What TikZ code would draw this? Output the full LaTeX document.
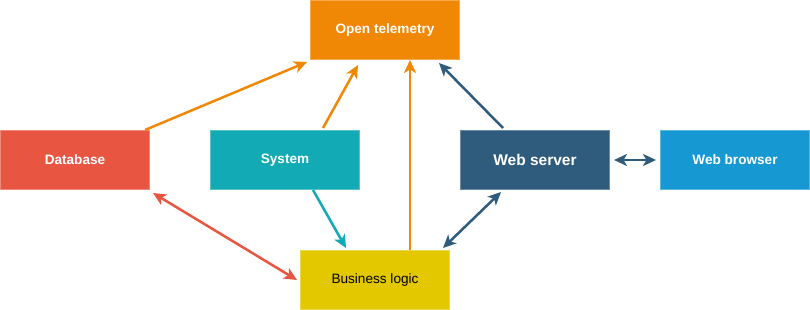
\documentclass[tikz,border=0pt]{standalone}
\usepackage{fontspec}
\setmainfont{Liberation Sans}
\usetikzlibrary{arrows.meta}
\definecolor{otel}{HTML}{F08705}
\definecolor{dbred}{HTML}{E85642}
\definecolor{systeal}{HTML}{12AAB5}
\definecolor{wsblue}{HTML}{2F5B7C}
\definecolor{wbblue}{HTML}{1699D3}
\definecolor{bizyel}{HTML}{E3C800}
\tikzstyle{block}=[rectangle,minimum width=149pt,minimum height=59pt,inner sep=0pt,line width=1pt,text=white,font=\bfseries\fontsize{13.6}{16}\selectfont]
\tikzstyle{link}=[line width=2.5pt,-{Stealth[length=13pt,width=12pt,inset=3.5pt]}]
\tikzstyle{dlink}=[line width=2.5pt,{Stealth[length=13pt,width=12pt,inset=3.5pt]}-{Stealth[length=13pt,width=12pt,inset=3.5pt]}]

\begin{document}
\begin{tikzpicture}[x=1pt,y=-1pt]
    \useasboundingbox (0,0) rectangle (810,310);
    \node[block,fill=otel,draw=otel!70!white] (ot) at (385,30) {Open telemetry};
    \node[block,fill=dbred,draw=dbred!70!white] (db) at (75,160) {Database};
    \node[block,fill=systeal,draw=systeal!70!white] (sys) at (285,160) {System};
    \node[block,fill=wsblue,draw=wsblue!70!white,font=\bfseries\fontsize{15.5}{18}\selectfont] (ws) at (535,160) {Web server};
    \node[block,fill=wbblue,draw=wbblue!70!white] (wb) at (735,160) {Web browser};
    \node[block,fill=bizyel,draw=bizyel!70!white,text=black,font=\fontsize{13.6}{16}\selectfont] (biz) at (375,280) {Business logic};

    % into telemetry
    \draw[link,otel] ([xshift=-5pt]db.north east) -- ([xshift=-3pt,yshift=-2pt]ot.south west);
    \draw[link,otel] ([xshift=38pt,yshift=2pt]sys.north) -- ([xshift=-27pt,yshift=-5pt]ot.south);
    \draw[link,otel] ([xshift=35pt]biz.north) -- ([xshift=25pt]ot.south);
    \draw[link,wsblue] ([xshift=-32pt,yshift=2pt]ws.north) -- ([xshift=-21pt,yshift=-3pt]ot.south east);

    % between the services
    \draw[dlink,wsblue] ([xshift=4pt]ws.east) -- ([xshift=-4pt]wb.west);
    \draw[link,systeal] ([xshift=28pt]sys.south) -- ([xshift=-29pt,yshift=2pt]biz.north);
    \draw[dlink,dbred] ([xshift=3pt,yshift=-3pt]db.south east) -- ([xshift=-3pt]biz.west);
    \draw[dlink,wsblue] ([xshift=-34pt,yshift=-2pt]ws.south) -- ([xshift=-7pt,yshift=2pt]biz.north east);
\end{tikzpicture}
\end{document}
